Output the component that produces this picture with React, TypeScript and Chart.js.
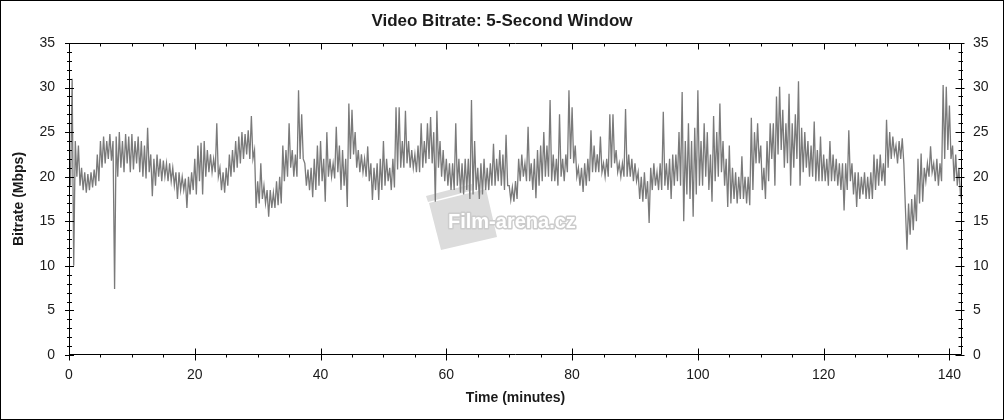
import React, { useEffect, useRef } from "react";
import { Chart, registerables } from "chart.js";

Chart.register(...registerables);

const TITLE = "Video Bitrate: 5-Second Window";
const X_TITLE = "Time (minutes)";
const Y_TITLE = "Bitrate (Mbps)";
const WATERMARK = "Film-arena.cz";

const SLOT_MINUTES = 0.5;
const X_MAX = 142;
const Y_MAX = 35;
const xTickValues = [0, 20, 40, 60, 80, 100, 120, 140];
const yTickValues = [0, 5, 10, 15, 20, 25, 30, 35];
const X_MINOR_STEP = 5;
const Y_MINOR_STEP = 1;

// Upper envelope of the 5-second-window bitrate in each half-minute slot (Mbps)
const windowHigh = [
  23, 31, 24, 23.5, 21, 20.5, 20.3, 20.5, 20.8, 22.5, 24, 24.5, 24, 24.8, 24, 24.5, 25, 24, 24.8, 24.5,
  24.8, 24, 24.5, 24, 23.5, 25.5, 22.5, 22, 22.5, 22, 21.8, 21.5, 21.5, 21, 20.5, 20.5, 20, 19.8, 20, 20.5,
  22, 23.5, 23.8, 24, 23, 22.5, 22, 26, 21, 20.5, 21, 22.5, 23, 24, 24.5, 25, 24.8, 25.2, 26.8, 23,
  19.5, 21.5, 19, 18.5, 18.5, 18.2, 19.5, 20, 23.5, 23, 26, 23, 22.5, 29.7, 27, 21.5, 20.8, 21, 22, 23.5,
  24, 22, 25, 22, 21.5, 25.6, 23.5, 23, 22, 28.2, 27.5, 25, 23, 22.5, 22, 23.4, 21.5, 21, 21.5, 22,
  24, 22, 21, 22, 27.8, 27.8, 24, 27.4, 24, 23, 22.5, 23.5, 26, 24, 26, 26.7, 25, 27.4, 24, 23,
  22, 21.5, 21.5, 26, 22, 21.5, 22, 22, 28.6, 24, 21, 21.5, 22, 21, 21.5, 23.7, 22, 23, 22.5, 24.7,
  19, 18.8, 19.5, 22, 22.5, 21.5, 25.6, 21.5, 22, 23, 23.5, 25, 23.5, 28.6, 22.5, 22, 27, 22, 22.5, 29.7,
  27.8, 23.5, 21, 21, 21.5, 22, 25.2, 23.5, 22.5, 24.5, 21.5, 22, 27, 27, 23, 21.5, 21.5, 27.6, 22.5, 22,
  21.5, 20.5, 20, 20.5, 19.5, 21, 21.5, 20.5, 21.5, 27.3, 21.5, 22, 22.5, 22.5, 25, 29.5, 24, 26, 24, 25.5,
  29.7, 24, 26, 25, 22.5, 26.8, 25, 28.2, 24, 22, 23.5, 21, 20.5, 20, 22.3, 20, 20, 26.6, 25, 26,
  23.5, 21, 24, 26, 26, 29, 30.1, 27.5, 26, 29.3, 26, 27, 30.7, 25.5, 25, 24, 23.5, 26.2, 23, 24.5,
  22.5, 22, 24, 22.5, 22, 21.5, 21.5, 21.5, 25.2, 21.5, 20.5, 20.5, 20, 20.5, 20, 20.5, 22.5, 22, 22.5, 21.5,
  26.4, 25, 24.5, 23.5, 24, 24.3, 16.5, 17, 17.5, 18, 22, 22.6, 21, 21.5, 23.4, 21.5, 22, 21.5, 30.3, 30.1,
  28, 23.5, 22.5, 21, 19,
];

// Lower envelope in each half-minute slot (Mbps)
const windowLow = [
  19, 10, 20, 19, 18.5, 18.2, 18.5, 18.8, 19, 19.5, 21, 21.5, 22, 21.8, 7.4, 20, 21, 20.5, 21.5, 20.5,
  20.8, 21.5, 20.5, 20, 19.8, 20.5, 17.8, 19, 20, 19.5, 20, 19.5, 19.5, 19, 17.5, 18.5, 18.5, 16.5, 18, 18.5,
  18, 19.5, 18, 20, 20.5, 20.5, 20.5, 20, 18.5, 18.2, 19, 20, 20.5, 21, 21.5, 22, 22.5, 22, 22, 16.5,
  17, 17.5, 17, 15.5, 16.5, 16.5, 16.8, 17, 19.5, 20, 21, 20, 20, 22, 22, 19, 18.5, 17.7, 18.5, 19,
  19.5, 17.2, 20, 20, 19.8, 20.5, 18.5, 19, 16.6, 22, 22.5, 21, 20.5, 20.5, 20, 19.5, 17.4, 18.5, 17.4, 18.5,
  19, 19.5, 18.5, 18.8, 20.8, 21, 21, 21.5, 21, 21, 20.5, 20.5, 21, 21.5, 22, 21.5, 17.2, 21, 20, 19.5,
  19, 18.5, 18.5, 19, 18.2, 18, 18.5, 17.5, 18, 18.5, 17.5, 18, 18.5, 18.5, 19, 19, 19.5, 19, 18.5, 19,
  17.4, 17.2, 17.5, 19.5, 20, 19.5, 19.5, 18.5, 17.6, 19, 19.5, 20, 20, 19.5, 19.5, 19, 20, 19.5, 20.5, 22,
  21.5, 20, 19, 18.3, 19, 19.5, 20.5, 20.5, 20.5, 20.5, 20, 20, 21, 21.5, 20.5, 20, 20, 20, 20, 19.5,
  19.5, 17.5, 17.2, 17.5, 14.8, 18.5, 19, 18.5, 18.5, 19, 18.5, 17.5, 19, 19.5, 19, 15, 18, 17.5, 15.5, 18,
  19, 19, 20, 18.5, 17.2, 19.5, 20, 20.5, 19, 16.6, 17, 17.5, 17, 17.5, 17.5, 17, 16.8, 18.5, 21.5, 21.5,
  18.5, 17.5, 19.5, 22, 19, 22.5, 23, 21, 21.5, 19, 21, 22, 19, 20.5, 21, 20, 20, 19.5, 19.5, 19.5,
  19.5, 19, 19.5, 19.5, 19, 18.5, 16.2, 18.5, 19.5, 18, 16.6, 17.5, 18, 17.5, 17.5, 17.5, 18.5, 19, 19.5, 19,
  21, 22, 22.5, 21.5, 22, 21.5, 11.8, 13.5, 14, 15, 17, 17.2, 19.5, 20, 20.5, 19.5, 19, 19.5, 22, 23,
  22, 19.5, 19, 18, 17,
];

const LINE_COLOR = "#7a7a7a";
const AXIS_COLOR = "#000000";
const TEXT_COLOR = "#1a1a1a";
const FONT = "Arial, 'Liberation Sans', sans-serif";

function buildPoints() {
  const pts: { x: number; y: number }[] = [];
  const n = Math.min(windowHigh.length, windowLow.length);
  for (let i = 0; i < n; i++) {
    const t = i * SLOT_MINUTES;
    pts.push({ x: t, y: windowHigh[i] });
    pts.push({ x: t + SLOT_MINUTES / 2, y: windowLow[i] });
  }
  return pts;
}

const decorPlugin = {
  id: "decor",
  beforeDatasetsDraw(chart: any) {
    const ctx = chart.ctx as CanvasRenderingContext2D;
    // watermark logo (clapperboard)
    ctx.save();
    ctx.fillStyle = "#dcdcdc";
    ctx.beginPath();
    ctx.moveTo(429, 203);
    ctx.lineTo(486, 189);
    ctx.lineTo(497, 237);
    ctx.lineTo(441, 250);
    ctx.closePath();
    ctx.fill();
    ctx.beginPath();
    ctx.moveTo(426, 196);
    ctx.lineTo(472, 184);
    ctx.lineTo(474, 190);
    ctx.lineTo(428, 202);
    ctx.closePath();
    ctx.fill();
    ctx.restore();
    ctx.save();
    ctx.font = `bold 20px ${FONT}`;
    ctx.textAlign = "left";
    ctx.textBaseline = "alphabetic";
    ctx.lineJoin = "round";
    ctx.lineWidth = 3;
    ctx.strokeStyle = "#cccccc";
    ctx.strokeText(WATERMARK, 448, 228);
    ctx.fillStyle = "#ffffff";
    ctx.fillText(WATERMARK, 448, 228);
    ctx.restore();
  },
  afterDraw(chart: any) {
    const ctx = chart.ctx as CanvasRenderingContext2D;
    const { left, right, top, bottom } = chart.chartArea;
    const xs = chart.scales.x;
    const ys = chart.scales.y;
    ctx.save();
    ctx.strokeStyle = AXIS_COLOR;
    ctx.lineWidth = 1;
    ctx.beginPath();
    const L = Math.round(left) + 0.5;
    const R = Math.round(right) - 0.5;
    const T = Math.round(top) + 0.5;
    const B = Math.round(bottom) - 0.5;
    ctx.moveTo(L, T);
    ctx.lineTo(R, T);
    ctx.lineTo(R, B);
    ctx.lineTo(L, B);
    ctx.closePath();
    for (let v = 0; v <= X_MAX; v += X_MINOR_STEP) {
      const px = Math.round(xs.getPixelForValue(v)) + 0.5;
      const major = xTickValues.includes(v);
      ctx.moveTo(px, B + (major ? 6 : 3));
      ctx.lineTo(px, B - (major ? 6 : 0));
      ctx.moveTo(px, T);
      ctx.lineTo(px, T + (major ? 6 : 3));
    }
    for (let v = 0; v <= Y_MAX; v += Y_MINOR_STEP) {
      const py = Math.round(ys.getPixelForValue(v)) + 0.5;
      const major = yTickValues.includes(v);
      const h = major ? 4.5 : 2.5;
      ctx.moveTo(L - h, py);
      ctx.lineTo(L + h, py);
      ctx.moveTo(R - (major ? 6 : 3), py);
      ctx.lineTo(R + (major ? 3 : 1.5), py);
    }
    ctx.stroke();

    ctx.strokeRect(0.5, 0.5, chart.width - 1, chart.height - 1);

    ctx.fillStyle = TEXT_COLOR;
    ctx.textAlign = "center";
    ctx.textBaseline = "middle";
    ctx.font = `bold 17px ${FONT}`;
    ctx.fillText(TITLE, chart.width / 2, 21);
    ctx.font = `bold 14px ${FONT}`;
    ctx.fillText(X_TITLE, (left + right) / 2, 398);
    ctx.translate(19, (top + bottom) / 2);
    ctx.rotate(-Math.PI / 2);
    ctx.fillText(Y_TITLE, 0, 0);
    ctx.restore();
  },
};

export default function App() {
  const canvasRef = useRef<HTMLCanvasElement | null>(null);

  useEffect(() => {
    document.body.style.margin = "0";
    const canvas = canvasRef.current;
    if (!canvas) return;
    const tickFont = { family: FONT, size: 14 };
    const fixTicks = (vals: number[]) => (scale: any) => {
      scale.ticks = vals.map((v) => ({ value: v }));
    };
    const chart = new Chart(canvas, {
      type: "line",
      data: {
        datasets: [
          {
            data: buildPoints(),
            borderColor: LINE_COLOR,
            borderWidth: 1.3,
            pointRadius: 0,
            tension: 0,
            fill: false,
            xAxisID: "x",
            yAxisID: "y",
          },
        ],
      },
      options: {
        responsive: false,
        animation: false,
        parsing: false,
        normalized: true,
        layout: { padding: 0 },
        plugins: {
          legend: { display: false },
          title: { display: false },
          tooltip: { enabled: false },
        },
        scales: {
          x: {
            type: "linear",
            position: "bottom",
            min: 0,
            max: X_MAX,
            afterBuildTicks: fixTicks(xTickValues),
            afterFit: (s: any) => {
              s.height = 65;
            },
            ticks: {
              font: tickFont,
              color: TEXT_COLOR,
              padding: 12,
              maxRotation: 0,
              autoSkip: false,
              callback: (v: any) => String(v),
            },
            grid: { display: false, drawTicks: false },
            border: { display: false },
          },
          x2: {
            type: "linear",
            position: "top",
            min: 0,
            max: X_MAX,
            afterBuildTicks: fixTicks(xTickValues),
            afterFit: (s: any) => {
              s.height = 43;
            },
            ticks: { display: false },
            grid: { display: false, drawTicks: false },
            border: { display: false },
          },
          y: {
            type: "linear",
            position: "left",
            min: 0,
            max: Y_MAX,
            afterBuildTicks: fixTicks(yTickValues),
            afterFit: (s: any) => {
              s.width = 69;
            },
            ticks: {
              font: tickFont,
              color: TEXT_COLOR,
              padding: 14,
              callback: (v: any) => String(v),
            },
            grid: { display: false, drawTicks: false },
            border: { display: false },
          },
          y2: {
            type: "linear",
            position: "right",
            min: 0,
            max: Y_MAX,
            afterBuildTicks: fixTicks(yTickValues),
            afterFit: (s: any) => {
              s.width = 42;
            },
            ticks: {
              font: tickFont,
              color: TEXT_COLOR,
              padding: 11,
              callback: (v: any) => String(v),
            },
            grid: { display: false, drawTicks: false },
            border: { display: false },
          },
        },
      },
      plugins: [decorPlugin],
    });
    return () => chart.destroy();
  }, []);

  return (
    <div style={{ width: 1004, height: 420, background: "#fff" }}>
      <canvas ref={canvasRef} width={1004} height={420} style={{ display: "block" }} />
    </div>
  );
}
